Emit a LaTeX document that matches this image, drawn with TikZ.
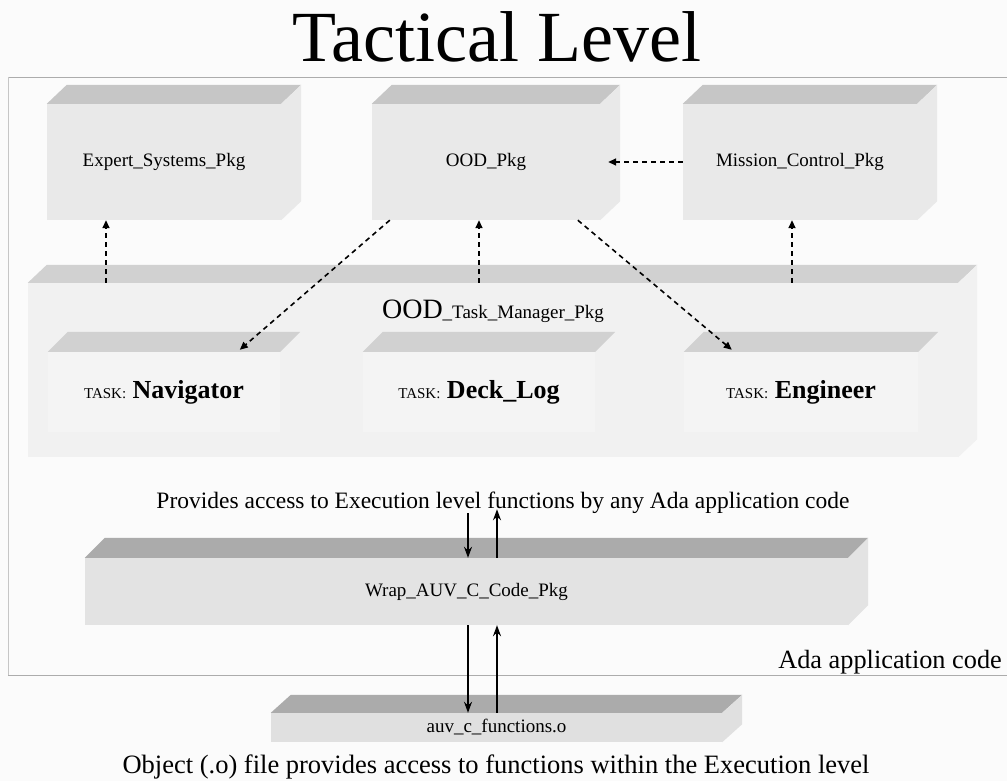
\documentclass[tikz,border=0pt]{standalone}
\usepackage{fontspec}
\setmainfont{Liberation Serif}
\usetikzlibrary{arrows.meta,calc}

% top face of a package box (parallelogram behind the front face)
\newcommand\packagetop[4]{%
  \fill[#4] (#1.north west) -- ++(#2,-#3) -- ($(#1.north east)+(#2,-#3)$) -- (#1.north east) -- cycle;}
% right-hand side face of a package box
\newcommand\packageside[4]{%
  \fill[#4] (#1.north east) -- ++(#2,-#3) -- ($(#1.south east)+(#2,-#3)$) -- (#1.south east) -- cycle;}

\begin{document}
\begin{tikzpicture}[x=1pt,y=-1pt,
  pkg/.style={fill=gray!17, inner sep=0pt, font=\fontsize{19}{22}\selectfont},
  taskbox/.style={fill=gray!9, inner sep=0pt, font=\fontsize{26}{30}\selectfont},
  topshade/.style={fill=gray!45},
  slabshade/.style={fill=gray!36},
  darktop/.style={fill=gray!66},
  dasharrow/.style={draw=black, line width=1.6pt, dash pattern=on 5pt off 4pt,
    -{Triangle[length=8pt,width=7pt]}},
  solidarrow/.style={draw=black, line width=1.4pt, -{Stealth[length=11pt,width=8pt]}},
  framerule/.style={draw=gray!65, line width=0.9pt},
  caption/.style={inner sep=0pt, font=\fontsize{23.5}{27}\selectfont}
]
\useasboundingbox (0,0) rectangle (1007,781);
\fill[gray!3] (0,0) rectangle (1007,781);

% title
\node[anchor=base, inner sep=0pt, font=\fontsize{72}{80}\selectfont] (title) at (497,62) {Tactical Level};

% frame of the Ada application code
\draw[framerule] (1007,77) -- (8,77);
\draw[framerule, draw=gray!45] (8,77) -- (8,675);
\draw[framerule] (8,675) -- (1007,675);
\node[anchor=base east, caption, font=\fontsize{26.3}{30}\selectfont] (ada) at (1002,668) {Ada application code};

% upper packages
\node[pkg, minimum width=234pt, minimum height=116pt] (expert) at (164,162) {Expert\_Systems\_Pkg};
\node[pkg, minimum width=228pt, minimum height=116pt] (ood) at (486,162) {OOD\_Pkg};
\node[pkg, minimum width=234pt, minimum height=116pt] (mission) at (800,162) {Mission\_Control\_Pkg};
\foreach \n in {expert,ood,mission}{
  \packagetop{\n}{20}{19}{topshade}
  \packageside{\n}{20}{19}{fill=gray!17}
}

% task manager package
\node[pkg, fill=gray!11, minimum width=930pt, minimum height=174pt] (mgr) at (493,370) {};
\packagetop{mgr}{19}{18}{slabshade}
\packageside{mgr}{19}{18}{fill=gray!11}
\node[inner sep=0pt, anchor=base] (mgrlabel) at (493,318)
  {{\fontsize{28}{30}\selectfont OOD}{\fontsize{19}{22}\selectfont\_Task\_Manager\_Pkg}};

% tasks inside the task manager
\node[taskbox, minimum width=232pt, minimum height=80pt] (nav) at (164,392)
  {{\fontsize{15}{18}\selectfont TASK:} \textbf{Navigator}};
\node[taskbox, minimum width=232pt, minimum height=80pt] (deck) at (479,392)
  {{\fontsize{15}{18}\selectfont TASK:} \textbf{Deck\_Log}};
\node[taskbox, minimum width=234pt, minimum height=80pt] (eng) at (801,392)
  {{\fontsize{15}{18}\selectfont TASK:} \textbf{Engineer}};
\foreach \n in {nav,deck,eng}{
  \packagetop{\n}{20}{20}{slabshade}
}

% dependencies between packages
\coordinate (xe) at (106,0);
\coordinate (xo) at (479,0);
\coordinate (xm) at (792,0);
\draw[dasharrow] (xe |- mgr.north) -- (xe |- expert.south);
\draw[dasharrow] (xo |- mgr.north) -- (xo |- ood.south);
\draw[dasharrow] (xm |- mgr.north) -- (xm |- mission.south);
\draw[dasharrow] (mission.west) -- ($(ood.east)+(8,0)$);
\draw[dasharrow] ($(ood.south west)+(18,0)$) -- ($(nav.north west)+(192,-2)$);
\draw[dasharrow] ($(ood.south west)+(206,0)$) -- ($(eng.north west)+(48,-2)$);

% wrapper package
\node[caption, anchor=base] (provides) at (503,508)
  {Provides access to Execution level functions by any Ada application code};
\node[pkg, fill=gray!22, minimum width=763pt, minimum height=67pt] (wrap) at (466.5,591.5)
  {Wrap\_AUV\_C\_Code\_Pkg};
\packagetop{wrap}{20}{20}{darktop}
\packageside{wrap}{20}{20}{fill=gray!22}

% object file
\node[pkg, fill=gray!24, minimum width=451pt, minimum height=29pt, font=\fontsize{19}{21}\selectfont] (aux) at (496.5,727.5)
  {auv\_c\_functions.o};
\packagetop{aux}{20}{18}{darktop}
\packageside{aux}{20}{18}{fill=gray!24}
\node[caption, anchor=base, font=\fontsize{26.5}{30}\selectfont] (objcap) at (496,773)
  {Object (.o) file provides access to functions within the Execution level};

% calls across the wrapper
\coordinate (xd) at (468,0);
\coordinate (xu) at (497,0);
\draw[solidarrow] (xd |- provides.south) -- (xd |- wrap.north);
\draw[solidarrow] (xu |- wrap.north) -- ([yshift=4pt]xu |- provides.south);
\draw[solidarrow] (xd |- wrap.south) -- (xd |- aux.north);
\draw[solidarrow] (xu |- aux.north) -- (xu |- wrap.south);
\end{tikzpicture}
\end{document}
